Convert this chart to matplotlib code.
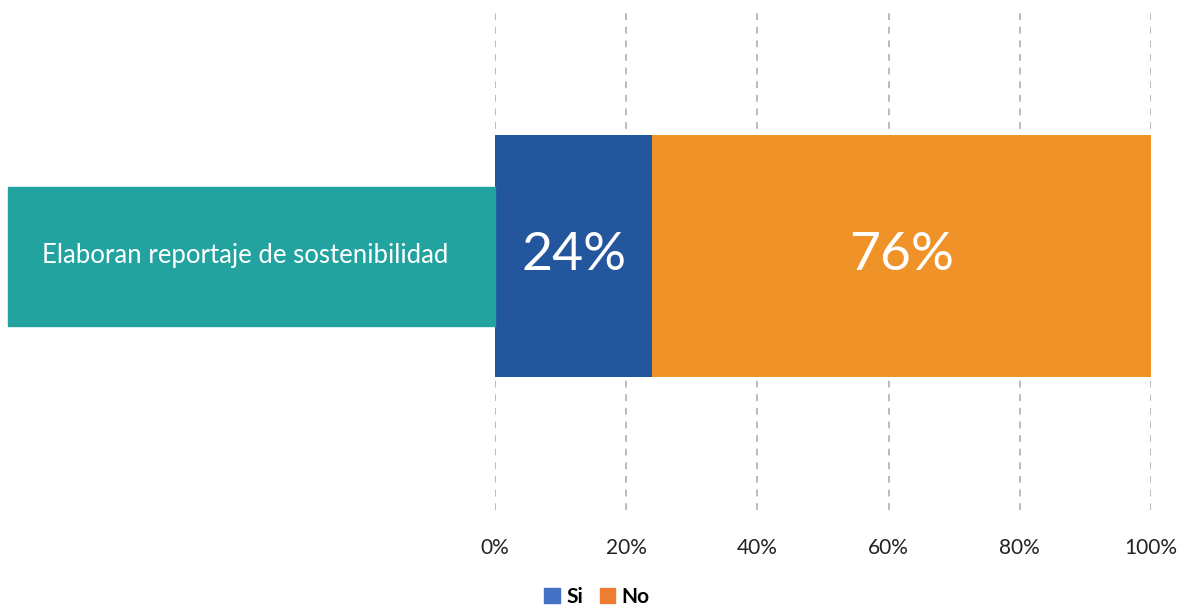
import matplotlib.pyplot as plt
from matplotlib.patches import Patch, Rectangle

categoria = "Elaboran reportaje de sostenibilidad"
series = ["Si", "No"]
valores = [24, 76]
colores_barra = ["#23569C", "#EF9329"]
colores_leyenda = ["#4472C4", "#ED7D31"]
ticks = [0, 20, 40, 60, 80, 100]

plt.rcParams['font.family'] = ['Lato', 'DejaVu Sans']

W, H = 1188, 608
fig = plt.figure(figsize=(W / 100, H / 100), dpi=100)
ax = fig.add_axes([495 / W, 1 - 510 / H, (1151 - 495) / W, 500 / H])

# barra apilada
izq = 0
for v, c in zip(valores, colores_barra):
    ax.barh(0.508, v, left=izq, height=0.484, color=c, zorder=2)
    ax.text(izq + v / 2, 0.508, f"{v}%", color="white", fontsize=38.5,
            ha="center", va="center", zorder=3)
    izq += v

ax.set_xlim(0, 100)
ax.set_ylim(0, 1)
ax.set_xticks(ticks)
ax.set_xticklabels([f"{t}%" for t in ticks], fontsize=15, color="#222222")
ax.tick_params(axis="x", length=0, pad=20)
ax.set_yticks([])
for s in ax.spines.values():
    s.set_visible(False)
for t in ticks:
    ax.axvline(t, color="#BBBBBB", lw=1.4, dashes=(3.5, 3.5), zorder=1)

# etiqueta de la categoría en caja verde
fig.patches.append(Rectangle((8 / W, 1 - 326 / H), (495 - 8) / W, (326 - 187) / H,
                             transform=fig.transFigure, color="#22A39F", zorder=0))
fig.text(42 / W, 1 - 256 / H, categoria, color="white", fontsize=18.5,
         ha="left", va="center")

handles = [Patch(color=c, label=s) for s, c in zip(series, colores_leyenda)]
leg = fig.legend(handles=handles, loc="center", bbox_to_anchor=(597 / W, 1 - 597 / H),
                 ncol=2, frameon=False, fontsize=15, handlelength=0.75,
                 handleheight=0.75, handletextpad=0.3, columnspacing=0.8)
for t in leg.get_texts():
    t.set_fontweight("bold")

fig.savefig("out.png", dpi=100)
